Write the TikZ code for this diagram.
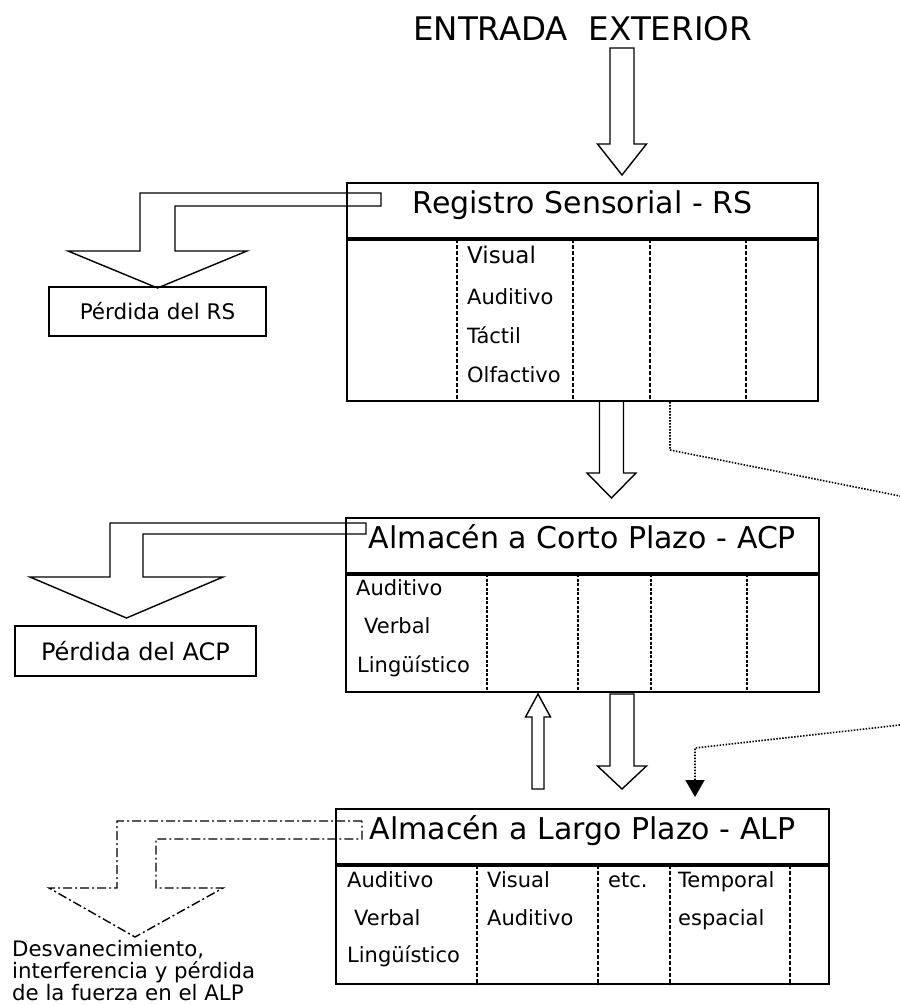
\documentclass[tikz,border=0pt]{standalone}
\usepackage{fontspec}
\setmainfont{DejaVu Sans}
\usetikzlibrary{arrows.meta,positioning}
\newcommand{\fs}[1]{\fontsize{#1}{#1}\selectfont}
% x, y start, y head, y tip, half shaft, half head
\newcommand{\blockv}[6]{%
  \draw[blockarrow] (#1-#5,#2) -- (#1+#5,#2) -- (#1+#5,#3) -- (#1+#6,#3) -- (#1,#4) -- (#1-#6,#3) -- (#1-#5,#3) -- cycle;}
\tikzset{
  head/.style={draw, line width=2pt, text height=30pt, text depth=25pt, inner sep=0pt, font=\fs{30}},
  body/.style={draw, line width=2pt, inner sep=0pt},
  cellt/.style={anchor=base west, inner sep=0pt, font=\fs{21}},
  divider/.style={line width=2pt, dash pattern=on 3.5pt off 2.5pt},
  blockarrow/.style={line width=1.4pt, line join=miter},
  lossbox/.style={draw, line width=1.4pt, inner sep=0pt},
  tracer/.style={line width=1.6pt, dash pattern=on 1.5pt off 1.5pt}
}

\begin{document}
\begin{tikzpicture}[x=1pt,y=-1pt]
    \useasboundingbox (0,0) rectangle (900,1005);
    \node[anchor=base, inner sep=0pt, font=\fs{32.5}] (entrada) at (582.5,40) {ENTRADA\ \ EXTERIOR};

    % registro sensorial
    \node[head, minimum width=471pt] (rs) at (582.5,210.5) {Registro Sensorial - RS};
    \node[body, minimum width=471pt, minimum height=161pt, below=0pt of rs] (rsb) {};
    \foreach \x in {457,573,650,746}
      \draw[divider] (\x,0 |- rsb.north) -- (\x,0 |- rsb.south);
    \node[cellt, font=\fs{23}] (rsvis) at (467,263) {Visual};
    \node[cellt] (rsaud) at (467,304) {Auditivo};
    \node[cellt] (rstac) at (467,343) {Táctil};
    \node[cellt] (rsolf) at (467,382) {Olfactivo};

    % almacen a corto plazo
    \node[head, minimum width=473pt] (acp) at (582.5,545.5) {Almacén a Corto Plazo - ACP};
    \node[body, minimum width=473pt, minimum height=117pt, below=0pt of acp] (acpb) {};
    \foreach \x in {487,578,651,747}
      \draw[divider, dash pattern=on 3pt off 1.5pt] (\x,0 |- acpb.north) -- (\x,0 |- acpb.south);
    \node[cellt] (acpaud) at (356,595) {Auditivo};
    \node[cellt] (acpver) at (364,633) {Verbal};
    \node[cellt] (acplin) at (357,672) {Lingüístico};

    % almacen a largo plazo
    \node[head, minimum width=493pt] (alp) at (582.5,836.5) {Almacén a Largo Plazo - ALP};
    \node[body, minimum width=493pt, minimum height=118pt, below=0pt of alp] (alpb) {};
    \foreach \x in {477,598,670,790}
      \draw[divider] (\x,0 |- alpb.north) -- (\x,0 |- alpb.south);
    \node[cellt] (alpaud) at (347,887) {Auditivo};
    \node[cellt] (alpver) at (354,925) {Verbal};
    \node[cellt] (alplin) at (347,962) {Lingüístico};
    \node[cellt] (alpvis) at (487,887) {Visual};
    \node[cellt] (alpaud2) at (487,925) {Auditivo};
    \node[cellt] (alpetc) at (608,887) {etc.};
    \node[cellt] (alptem) at (678,887) {Temporal};
    \node[cellt] (alpesp) at (678,925) {espacial};

    % flechas huecas
    \blockv{622}{48}{144}{175}{12}{24.5}
    \blockv{611.5}{401}{473}{498}{12}{24.5}
    \blockv{622}{694}{766}{789}{12}{24.5}
    \blockv{538}{789}{717}{694}{6}{12.5}

    % perdidas
    \draw[blockarrow] (381,193) -- (140,193) -- (140,251) -- (68,251) -- (157.5,288) -- (247,251) -- (175,251) -- (175,206) -- (381,206) -- cycle;
    \node[lossbox, minimum width=217pt, minimum height=49pt, font=\fs{21.5}] (rsloss) at (157.5,311.5) {Pérdida del RS\hspace{17pt}};
    \draw[blockarrow] (366,523) -- (110,523) -- (110,577) -- (30,577) -- (126.5,618) -- (223,577) -- (143,577) -- (143,534) -- (366,534) -- cycle;
    \node[lossbox, minimum width=241pt, minimum height=50pt, font=\fs{24}] (acploss) at (135.5,651) {Pérdida del ACP\hspace{7pt}};
    \draw[blockarrow, dash pattern=on 9pt off 3pt on 2pt off 3pt] (362,821) -- (117,821) -- (117,888) -- (49,888) -- (135,937) -- (223,888) -- (156,888) -- (156,839) -- (362,839) -- cycle;
    \node[anchor=base west, align=left, inner sep=0pt, font={\fontsize{21.3}{22}\selectfont}] (alpfade) at (12,1000) {Desvanecimiento,\\interferencia y pérdida\\de la fuerza en el ALP};

    % trazas punteadas
    \coordinate (rsout) at (900,496);
    \draw[tracer] (670,0 |- rsb.south) -- (670,450) -- (rsout);
    \coordinate (alpin) at (900,725);
    \draw[tracer, -{Triangle[length=17pt,width=19pt]}, shorten >=11pt] (alpin) -- (695,748) -- (695,0 |- alp.north);
\end{tikzpicture}
\end{document}
